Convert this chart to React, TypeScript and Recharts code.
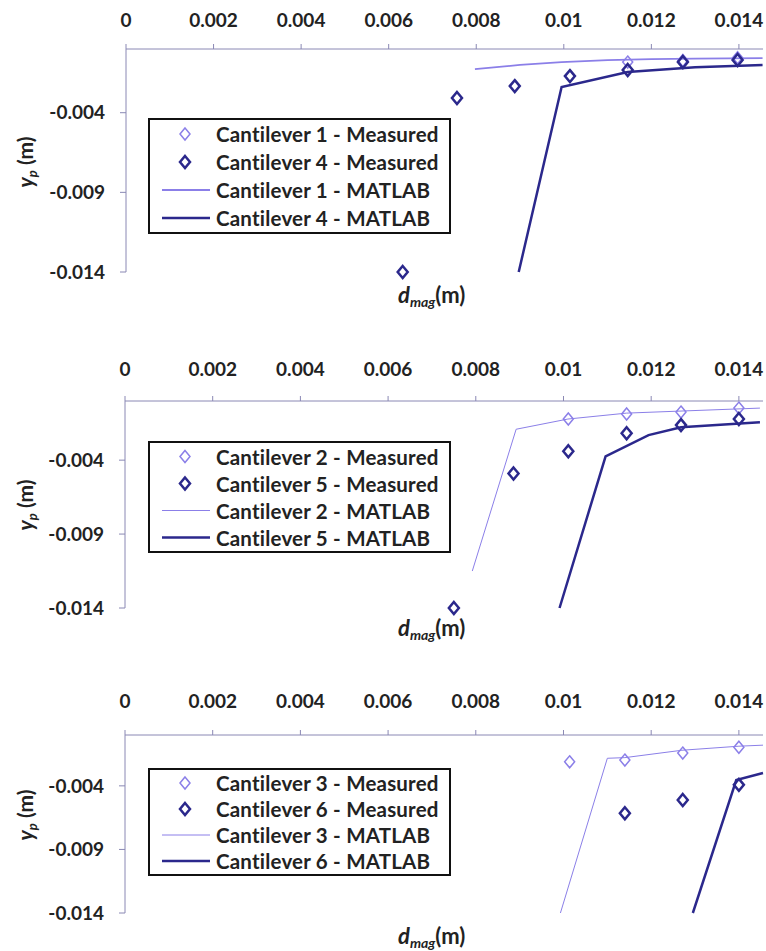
import React from 'react';
import { ComposedChart, Line, Scatter, XAxis, YAxis, Legend } from 'recharts';

type Pt = { x: number; y: number };

const xTicks = [0, 0.002, 0.004, 0.006, 0.008, 0.01, 0.012, 0.014];
const yTicks = [-0.014, -0.009, -0.004];

// panel 1: cantilever 1 & 4
const cant1Measured: Pt[] = [
  { x: 0.01146, y: -0.00082 },
  { x: 0.01272, y: -0.00072 },
  { x: 0.01397, y: -0.00055 },
];
const cant4Measured: Pt[] = [
  { x: 0.00632, y: -0.01400 },
  { x: 0.00756, y: -0.00308 },
  { x: 0.00888, y: -0.00233 },
  { x: 0.01014, y: -0.00170 },
  { x: 0.01146, y: -0.00132 },
  { x: 0.01272, y: -0.00082 },
  { x: 0.01397, y: -0.00069 },
];
const cant1Matlab: Pt[] = [
  { x: 0.00797, y: -0.00126 },
  { x: 0.009, y: -0.00100 },
  { x: 0.00995, y: -0.00082 },
  { x: 0.011, y: -0.00070 },
  { x: 0.012, y: -0.00063 },
  { x: 0.013, y: -0.00060 },
  { x: 0.01454, y: -0.00057 },
];
const cant4Matlab: Pt[] = [
  { x: 0.00897, y: -0.01400 },
  { x: 0.00995, y: -0.00239 },
  { x: 0.01146, y: -0.00145 },
  { x: 0.013, y: -0.00115 },
  { x: 0.01454, y: -0.00101 },
];

// panel 2: cantilever 2 & 5
const cant2Measured: Pt[] = [
  { x: 0.01011, y: -0.00122 },
  { x: 0.01144, y: -0.00088 },
  { x: 0.01268, y: -0.00075 },
  { x: 0.0140, y: -0.00048 },
];
const cant5Measured: Pt[] = [
  { x: 0.0075, y: -0.01400 },
  { x: 0.00886, y: -0.0049 },
  { x: 0.01011, y: -0.0034 },
  { x: 0.01144, y: -0.00218 },
  { x: 0.01268, y: -0.00163 },
  { x: 0.0140, y: -0.00122 },
];
const cant2Matlab: Pt[] = [
  { x: 0.00792, y: -0.0115 },
  { x: 0.00892, y: -0.00191 },
  { x: 0.0101, y: -0.00122 },
  { x: 0.01144, y: -0.00082 },
  { x: 0.01268, y: -0.00068 },
  { x: 0.01448, y: -0.00048 },
];
const cant5Matlab: Pt[] = [
  { x: 0.00991, y: -0.01400 },
  { x: 0.01096, y: -0.00374 },
  { x: 0.01194, y: -0.00231 },
  { x: 0.01268, y: -0.00177 },
  { x: 0.01448, y: -0.00143 },
];

// panel 3: cantilever 3 & 6
const cant3Measured: Pt[] = [
  { x: 0.01014, y: -0.00211 },
  { x: 0.0114, y: -0.00197 },
  { x: 0.01272, y: -0.00142 },
  { x: 0.0140, y: -0.00096 },
];
const cant6Measured: Pt[] = [
  { x: 0.0114, y: -0.00616 },
  { x: 0.01272, y: -0.00511 },
  { x: 0.0140, y: -0.00392 },
];
const cant3Matlab: Pt[] = [
  { x: 0.00993, y: -0.01400 },
  { x: 0.011, y: -0.00183 },
  { x: 0.0114, y: -0.00178 },
  { x: 0.0127, y: -0.0012 },
  { x: 0.0140, y: -0.00088 },
  { x: 0.01455, y: -0.0008 },
];
const cant6Matlab: Pt[] = [
  { x: 0.01295, y: -0.01400 },
  { x: 0.01394, y: -0.00354 },
  { x: 0.01455, y: -0.00299 },
];

const LIGHT = '#8b7fe8';
const DARK = '#2b288c';
const AXIS = '#8a88b4';
const FONT = 'Lato, "Noto Sans", sans-serif';
const H = 290;

const diamond = (color: string, sw: number) => (props: any) => {
  const { cx, cy } = props;
  if (cx == null || cy == null) return <g />;
  return (
    <path
      d={`M${cx},${cy - 6}L${cx + 5},${cy}L${cx},${cy + 6}L${cx - 5},${cy}Z`}
      fill="none"
      stroke={color}
      strokeWidth={sw}
    />
  );
};

type PanelProps = {
  top: number;
  plotTop: number;
  plotBottom: number;
  plotLeft: number;
  tickGap: number;
  light: number;
  dark: number;
  lightMeasured: Pt[];
  darkMeasured: Pt[];
  lightModel: Pt[];
  darkModel: Pt[];
  lightModelWidth: number;
  legendTop: number;
  rowH: number;
  yTitleY: number;
  xTitleY: number;
};

const subStyle = (size: number, drop: number): React.CSSProperties => ({
  fontSize: size,
  fontStyle: 'italic',
  verticalAlign: 'baseline',
  position: 'relative',
  top: drop,
});

const Panel = (p: PanelProps) => {
  const rows = [
    { label: `Cantilever ${p.light} - Measured`, kind: 'pt', color: LIGHT, sw: 1.5 },
    { label: `Cantilever ${p.dark} - Measured`, kind: 'pt', color: DARK, sw: 2.5 },
    { label: `Cantilever ${p.light} - MATLAB`, kind: 'ln', color: LIGHT, sw: p.lightModelWidth },
    { label: `Cantilever ${p.dark} - MATLAB`, kind: 'ln', color: DARK, sw: 2.5 },
  ];

  const renderLegend = () => (
    <div
      style={{
        border: '2px solid #111',
        background: '#fff',
        width: 299,
        boxSizing: 'content-box',
        fontFamily: FONT,
        fontSize: 20.5,
        fontWeight: 700,
        color: '#222',
      }}
    >
      {rows.map((r) => (
        <div key={r.label} style={{ height: p.rowH, display: 'flex', alignItems: 'center' }}>
          <svg width={66} height={p.rowH} style={{ flex: 'none' }}>
            {r.kind === 'pt' ? (
              <path
                d={`M35,${p.rowH / 2 - 6}L40,${p.rowH / 2}L35,${p.rowH / 2 + 6}L30,${p.rowH / 2}Z`}
                fill="none"
                stroke={r.color}
                strokeWidth={r.sw}
              />
            ) : (
              <line x1={12} x2={60} y1={p.rowH / 2} y2={p.rowH / 2} stroke={r.color} strokeWidth={r.sw} />
            )}
          </svg>
          <span style={{ whiteSpace: 'nowrap', letterSpacing: 0.2 }}>{r.label}</span>
        </div>
      ))}
    </div>
  );

  return (
    <div style={{ position: 'absolute', left: 0, top: p.top, width: 766, height: H }}>
      <ComposedChart
        width={766}
        height={H}
        margin={{
          top: p.plotTop - p.top - 30,
          bottom: H - (p.plotBottom - p.top),
          left: p.plotLeft - 60,
          right: 3,
        }}
      >
        <XAxis
          type="number"
          dataKey="x"
          orientation="top"
          domain={[0, 0.01455]}
          ticks={xTicks}
          height={30}
          interval={0}
          stroke={AXIS}
          tickSize={5}
          tickMargin={p.tickGap}
          tick={{ fill: '#222', fontFamily: FONT, fontSize: 19, fontWeight: 700 }}
        />
        <YAxis
          type="number"
          dataKey="y"
          domain={[-0.014, 0]}
          ticks={yTicks}
          width={60}
          interval={0}
          stroke={AXIS}
          tickSize={6}
          tickMargin={15}
          tick={{ fill: '#222', fontFamily: FONT, fontSize: 19, fontWeight: 700 }}
        />
        <Legend
          layout="vertical"
          align="center"
          verticalAlign="middle"
          content={renderLegend}
          wrapperStyle={{ left: 148, top: p.legendTop - p.top, width: 303 }}
        />
        <Line
          data={p.lightModel}
          dataKey="y"
          type="linear"
          stroke={LIGHT}
          strokeWidth={p.lightModelWidth}
          dot={false}
          isAnimationActive={false}
          legendType="none"
        />
        <Line
          data={p.darkModel}
          dataKey="y"
          type="linear"
          stroke={DARK}
          strokeWidth={2.5}
          dot={false}
          isAnimationActive={false}
          legendType="none"
        />
        <Scatter data={p.lightMeasured} dataKey="y" shape={diamond(LIGHT, 1.5)} isAnimationActive={false} />
        <Scatter data={p.darkMeasured} dataKey="y" shape={diamond(DARK, 2.5)} isAnimationActive={false} />
      </ComposedChart>
      <div
        style={{
          position: 'absolute',
          left: 24,
          top: p.yTitleY - p.top,
          transform: 'translate(-50%, -50%) rotate(-90deg)',
          whiteSpace: 'nowrap',
          fontFamily: FONT,
          fontWeight: 700,
          fontSize: 21,
          lineHeight: 1,
          color: '#222',
        }}
      >
        <i>y</i>
        <span style={subStyle(13, 4)}>p</span> (m)
      </div>
      <div
        style={{
          position: 'absolute',
          left: 398,
          top: p.xTitleY - p.top,
          transform: 'translateY(-50%)',
          whiteSpace: 'nowrap',
          fontFamily: FONT,
          fontWeight: 700,
          fontSize: 22,
          lineHeight: 1,
          color: '#222',
        }}
      >
        <i>d</i>
        <span style={subStyle(14, 4)}>mag</span>(m)
      </div>
    </div>
  );
};

export default function App() {
  return (
    <div style={{ position: 'absolute', left: 0, top: 0, width: 766, height: 951, background: '#fff' }}>
      <Panel
        top={0}
        plotTop={49}
        plotBottom={272}
        plotLeft={126}
        tickGap={17}
        light={1}
        dark={4}
        lightMeasured={cant1Measured}
        darkMeasured={cant4Measured}
        lightModel={cant1Matlab}
        darkModel={cant4Matlab}
        lightModelWidth={1.8}
        legendTop={118}
        rowH={28}
        yTitleY={162}
        xTitleY={295}
      />
      <Panel
        top={330}
        plotTop={401}
        plotBottom={608}
        plotLeft={125}
        tickGap={20}
        light={2}
        dark={5}
        lightMeasured={cant2Measured}
        darkMeasured={cant5Measured}
        lightModel={cant2Matlab}
        darkModel={cant5Matlab}
        lightModelWidth={1}
        legendTop={441}
        rowH={27}
        yTitleY={505}
        xTitleY={628}
      />
      <Panel
        top={660}
        plotTop={735}
        plotBottom={913}
        plotLeft={125}
        tickGap={22}
        light={3}
        dark={6}
        lightMeasured={cant3Measured}
        darkMeasured={cant6Measured}
        lightModel={cant3Matlab}
        darkModel={cant6Matlab}
        lightModelWidth={1}
        legendTop={768}
        rowH={26}
        yTitleY={815}
        xTitleY={936}
      />
    </div>
  );
}
